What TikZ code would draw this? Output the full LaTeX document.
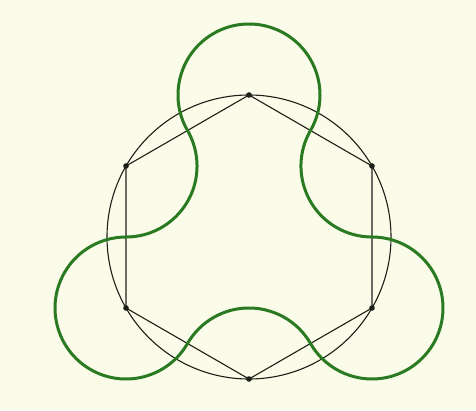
\documentclass[tikz,border=0pt]{standalone}
\definecolor{bg}{RGB}{251,251,234}
\definecolor{lobe}{RGB}{42,122,34}
\definecolor{ink}{RGB}{30,30,25}
\tikzset{
  thinline/.style={draw=ink, line width=1.1pt},
  greencurve/.style={draw=lobe, line width=3pt},
  vdot/.style={fill=ink}
}
\begin{document}
\begin{tikzpicture}[x=1pt,y=1pt]
\fill[bg] (0,0) rectangle (476,410);
\useasboundingbox (0,0) rectangle (476,410);
\coordinate (C) at (249,173);
\foreach \i/\a in {0/90,1/30,2/-30,3/-90,4/-150,5/150}
  \coordinate (V\i) at ([shift={(\a:142)}]C);
\draw[thinline] (C) circle[radius=142];
\draw[thinline] (V0)--(V1)--(V2)--(V3)--(V4)--(V5)--cycle;
\draw[greencurve] ([shift={(210:71)}]V0)
  arc[start angle=210, end angle=-30, radius=71]
  arc[start angle=150, end angle=270, radius=71]
  arc[start angle=90, end angle=-150, radius=71]
  arc[start angle=30, end angle=150, radius=71]
  arc[start angle=-30, end angle=-270, radius=71]
  arc[start angle=-90, end angle=30, radius=71]
  -- cycle;
\foreach \i in {0,...,5}
  \fill[vdot] (V\i) circle[radius=2.8];
\end{tikzpicture}
\end{document}
